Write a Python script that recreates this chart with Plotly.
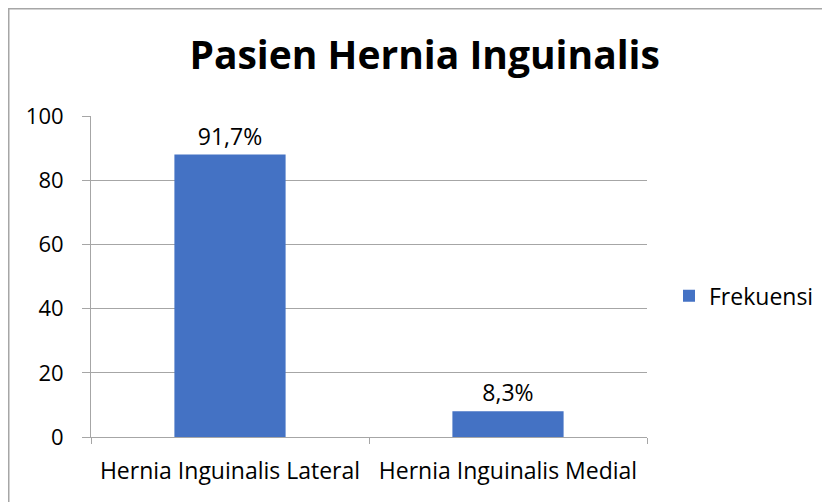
import plotly.graph_objects as go

categories = ["Hernia Inguinalis Lateral", "Hernia Inguinalis Medial"]
frekuensi = [88, 8]
percent_labels = ["91,7%", "8,3%"]
y_ticks = [0, 20, 40, 60, 80, 100]

FONT = "Open Sans"
GRID = "#a6a6a6"

# page body has an 8px offset; figure coords = screen coords - 8
L, R, T, B = 83, 191, 108, 73
PW, PH = 830 - L - R, 502 - T - B

fig = go.Figure()
fig.add_trace(go.Bar(
    x=categories, y=frekuensi, name="Frekuensi",
    marker=dict(color="#4472C4", line=dict(width=0)),
    text=percent_labels, textposition="outside", cliponaxis=False,
    textfont=dict(family=FONT, size=23, color="#000000"),
))

fig.update_layout(
    width=830, height=502,
    margin=dict(l=L, r=R, t=T, b=B),
    paper_bgcolor="white", plot_bgcolor="white",
    bargap=0.6,
    showlegend=True,
    title=dict(text="<b>Pasien Hernia Inguinalis</b>", x=0.502, xanchor="center",
               y=1 - 47 / 502, yanchor="middle", yref="container",
               font=dict(family=FONT, size=39, color="#000000")),
    legend=dict(x=(661 - L) / PW, xanchor="left", y=0.44, yanchor="middle",
                font=dict(family=FONT, size=23, color="#000000"),
                bgcolor="rgba(0,0,0,0)"),
    font=dict(family=FONT, color="#000000"),
)

fig.update_yaxes(range=[0, 100], tickvals=y_ticks, showgrid=True, gridcolor=GRID, gridwidth=1,
                 showline=True, linecolor=GRID, linewidth=1, ticks="outside", ticklen=8,
                 tickcolor=GRID, tickfont=dict(family=FONT, size=22, color="#000000"),
                 ticklabelstandoff=14, zeroline=False, fixedrange=True)
fig.update_xaxes(showline=True, linecolor=GRID, linewidth=1, ticks="outside", ticklen=6,
                 tickcolor=GRID, tickson="boundaries", showgrid=False,
                 ticklabelstandoff=13,
                 tickfont=dict(family=FONT, size=23, color="#000000"))

# chart frame (left and top edges visible in the reference)
fig.add_shape(type="rect", xref="paper", yref="paper",
              x0=(0.75 - L) / PW, x1=(850 - L) / PW,
              y0=(PH + T - 520) / PH, y1=(PH + T - 0.75) / PH,
              line=dict(color=GRID, width=1.5), fillcolor="rgba(0,0,0,0)", layer="below")

fig.write_html("out.html")
